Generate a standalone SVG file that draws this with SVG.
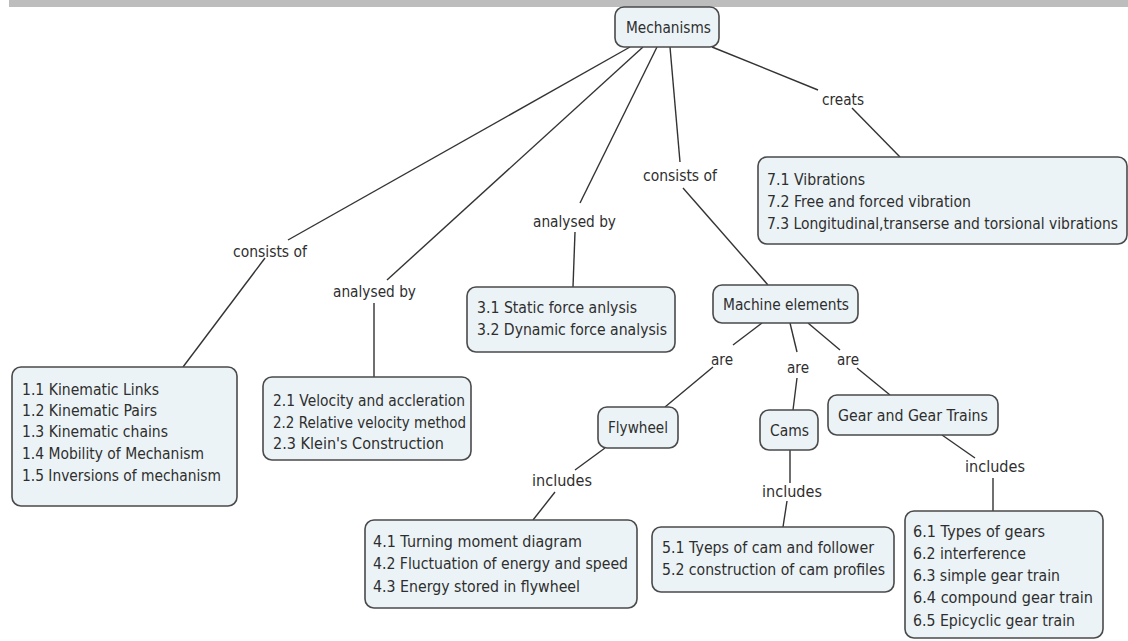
<svg xmlns="http://www.w3.org/2000/svg" width="1128" height="641" viewBox="0 0 1128 641">
<style>
.bg{fill:#ffffff}
.bar{fill:#bdbdbd}
.node{fill:#ebf3f6;stroke:#4a4a4a;stroke-width:1.6}
.t{font-family:"DejaVu Sans","Liberation Sans",sans-serif;font-size:16.5px;fill:#2e2e2e}
.lbl{font-family:"DejaVu Sans","Liberation Sans",sans-serif;font-size:16.5px;fill:#2e2e2e}
.c line{stroke:#333333;stroke-width:1.4}
</style>
<rect class="bg" x="0" y="0" width="1128" height="641"/>
<rect class="bar" x="9" y="0" width="1119" height="7"/>
<g id="connectors" class="c">
<line x1="630" y1="47" x2="288" y2="240"/>
<line x1="265" y1="258" x2="183" y2="367"/>
<line x1="643" y1="47" x2="387" y2="280"/>
<line x1="374" y1="303" x2="374" y2="377"/>
<line x1="657" y1="47" x2="580" y2="203"/>
<line x1="575" y1="232" x2="573" y2="287"/>
<line x1="670" y1="47" x2="680" y2="162"/>
<line x1="683" y1="188" x2="768" y2="285"/>
<line x1="712" y1="47" x2="818" y2="90"/>
<line x1="852" y1="108" x2="900" y2="157"/>
<line x1="762" y1="323" x2="733" y2="345"/>
<line x1="713" y1="367" x2="665" y2="407"/>
<line x1="790" y1="323" x2="797" y2="352"/>
<line x1="797" y1="378" x2="793" y2="410"/>
<line x1="808" y1="323" x2="840" y2="350"/>
<line x1="857" y1="368" x2="890" y2="395"/>
<line x1="605" y1="448" x2="575" y2="470"/>
<line x1="555" y1="492" x2="533" y2="520"/>
<line x1="790" y1="450" x2="790" y2="483"/>
<line x1="787" y1="501" x2="783" y2="527"/>
<line x1="942" y1="435" x2="975" y2="458"/>
<line x1="993" y1="478" x2="993" y2="511"/>
</g>
<g id="labels">
<text class="lbl" x="233" y="257" textLength="74" lengthAdjust="spacingAndGlyphs">consists of</text>
<text class="lbl" x="333" y="297" textLength="83" lengthAdjust="spacingAndGlyphs">analysed by</text>
<text class="lbl" x="533" y="227" textLength="83" lengthAdjust="spacingAndGlyphs">analysed by</text>
<text class="lbl" x="643" y="181" textLength="74" lengthAdjust="spacingAndGlyphs">consists of</text>
<text class="lbl" x="822" y="105" textLength="42" lengthAdjust="spacingAndGlyphs">creats</text>
<text class="lbl" x="711" y="365" textLength="22" lengthAdjust="spacingAndGlyphs">are</text>
<text class="lbl" x="787" y="373" textLength="22" lengthAdjust="spacingAndGlyphs">are</text>
<text class="lbl" x="837" y="365" textLength="22" lengthAdjust="spacingAndGlyphs">are</text>
<text class="lbl" x="532" y="486" textLength="60" lengthAdjust="spacingAndGlyphs">includes</text>
<text class="lbl" x="762" y="497" textLength="60" lengthAdjust="spacingAndGlyphs">includes</text>
<text class="lbl" x="965" y="472" textLength="60" lengthAdjust="spacingAndGlyphs">includes</text>
</g>
<g id="mechanisms">
<rect class="node" x="615" y="7" width="104" height="40" rx="9"/>
<text class="t" x="626" y="33" textLength="85" lengthAdjust="spacingAndGlyphs">Mechanisms</text>
</g>
<g id="vibrations">
<rect class="node" x="758" y="157" width="369" height="87" rx="9"/>
<text class="t" x="767" y="185" textLength="98" lengthAdjust="spacingAndGlyphs">7.1 Vibrations</text>
<text class="t" x="767" y="207" textLength="204" lengthAdjust="spacingAndGlyphs">7.2 Free and forced vibration</text>
<text class="t" x="767" y="229" textLength="351" lengthAdjust="spacingAndGlyphs">7.3 Longitudinal,transerse and torsional vibrations</text>
</g>
<g id="kinematics">
<rect class="node" x="12" y="367" width="225" height="139" rx="9"/>
<text class="t" x="22" y="395" textLength="137" lengthAdjust="spacingAndGlyphs">1.1 Kinematic Links</text>
<text class="t" x="22" y="416" textLength="135" lengthAdjust="spacingAndGlyphs">1.2 Kinematic Pairs</text>
<text class="t" x="22" y="437" textLength="146" lengthAdjust="spacingAndGlyphs">1.3 Kinematic chains</text>
<text class="t" x="22" y="459" textLength="182" lengthAdjust="spacingAndGlyphs">1.4 Mobility of Mechanism</text>
<text class="t" x="22" y="481" textLength="199" lengthAdjust="spacingAndGlyphs">1.5 Inversions of mechanism</text>
</g>
<g id="velocity">
<rect class="node" x="263" y="377" width="208" height="83" rx="9"/>
<text class="t" x="273" y="406" textLength="192" lengthAdjust="spacingAndGlyphs">2.1 Velocity and accleration</text>
<text class="t" x="273" y="428" textLength="193" lengthAdjust="spacingAndGlyphs">2.2 Relative velocity method</text>
<text class="t" x="273" y="449" textLength="171" lengthAdjust="spacingAndGlyphs">2.3  Klein's Construction</text>
</g>
<g id="force">
<rect class="node" x="467" y="287" width="208" height="65" rx="9"/>
<text class="t" x="477" y="313" textLength="160" lengthAdjust="spacingAndGlyphs">3.1 Static force anlysis</text>
<text class="t" x="477" y="335" textLength="190" lengthAdjust="spacingAndGlyphs">3.2 Dynamic force analysis</text>
</g>
<g id="machine-elements">
<rect class="node" x="713" y="285" width="145" height="38" rx="9"/>
<text class="t" x="723" y="310" textLength="126" lengthAdjust="spacingAndGlyphs">Machine elements</text>
</g>
<g id="flywheel">
<rect class="node" x="598" y="407" width="80" height="41" rx="9"/>
<text class="t" x="608" y="433" textLength="60" lengthAdjust="spacingAndGlyphs">Flywheel</text>
</g>
<g id="cams">
<rect class="node" x="760" y="410" width="58" height="40" rx="9"/>
<text class="t" x="770" y="436" textLength="39" lengthAdjust="spacingAndGlyphs">Cams</text>
</g>
<g id="gears">
<rect class="node" x="828" y="395" width="170" height="40" rx="9"/>
<text class="t" x="838" y="421" textLength="150" lengthAdjust="spacingAndGlyphs">Gear and Gear Trains</text>
</g>
<g id="flywheel-topics">
<rect class="node" x="365" y="520" width="272" height="88" rx="9"/>
<text class="t" x="373" y="547" textLength="209" lengthAdjust="spacingAndGlyphs">4.1 Turning moment diagram</text>
<text class="t" x="373" y="569" textLength="255" lengthAdjust="spacingAndGlyphs">4.2 Fluctuation of energy and speed</text>
<text class="t" x="373" y="592" textLength="207" lengthAdjust="spacingAndGlyphs">4.3 Energy stored in flywheel</text>
</g>
<g id="cam-topics">
<rect class="node" x="652" y="527" width="242" height="65" rx="9"/>
<text class="t" x="662" y="553" textLength="212" lengthAdjust="spacingAndGlyphs">5.1 Tyeps of cam and follower</text>
<text class="t" x="662" y="575" textLength="223" lengthAdjust="spacingAndGlyphs">5.2 construction of cam profiles</text>
</g>
<g id="gear-topics">
<rect class="node" x="905" y="511" width="198" height="127" rx="9"/>
<text class="t" x="913" y="537" textLength="132" lengthAdjust="spacingAndGlyphs">6.1 Types of gears</text>
<text class="t" x="913" y="559" textLength="113" lengthAdjust="spacingAndGlyphs">6.2 interference</text>
<text class="t" x="913" y="581" textLength="147" lengthAdjust="spacingAndGlyphs">6.3 simple gear train</text>
<text class="t" x="913" y="603" textLength="180" lengthAdjust="spacingAndGlyphs">6.4 compound  gear train</text>
<text class="t" x="913" y="626" textLength="162" lengthAdjust="spacingAndGlyphs">6.5 Epicyclic gear train</text>
</g>
</svg>
